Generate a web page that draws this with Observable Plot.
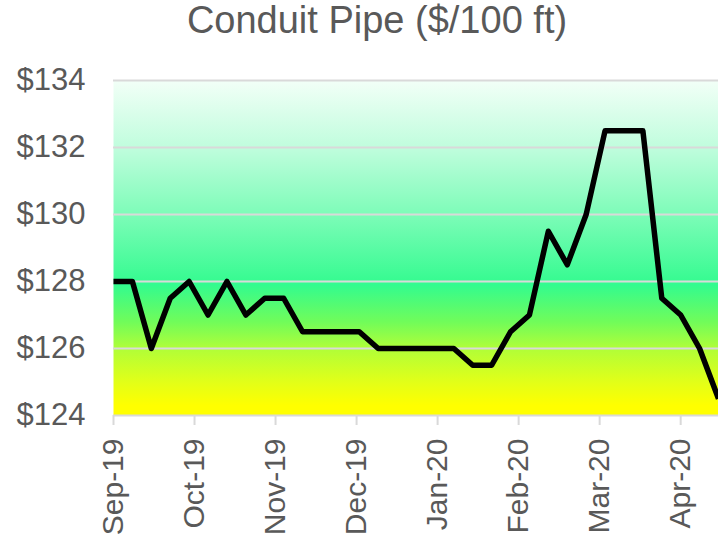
<!DOCTYPE html>
<html>
<head>
<meta charset="utf-8">
<script src="https://cdn.jsdelivr.net/npm/d3@7"></script>
<script src="https://cdn.jsdelivr.net/npm/@observablehq/plot@0.6"></script>
<style>
  html, body { margin: 0; padding: 0; background: #ffffff; }
  #title {
    box-sizing: border-box; width: 718px; height: 60px;
    padding-left: 36px; padding-top: 1px;
    text-align: center; font-family: "Liberation Sans", Arial, sans-serif;
    font-size: 38px; line-height: 38px; color: #595959; white-space: nowrap;
  }
  #chart svg { display: block; }
</style>
</head>
<body>
<div id="title">Conduit Pipe ($/100 ft)</div>
<div id="chart"></div>
<script>
// Weekly observation dates
const dates = [
  "2019-09-01","2019-09-08","2019-09-15","2019-09-22","2019-09-29",
  "2019-10-06","2019-10-13","2019-10-20","2019-10-27",
  "2019-11-03","2019-11-10","2019-11-17","2019-11-24",
  "2019-12-01","2019-12-08","2019-12-15","2019-12-22","2019-12-29",
  "2020-01-05","2020-01-12","2020-01-19","2020-01-26",
  "2020-02-02","2020-02-09","2020-02-16","2020-02-23",
  "2020-03-01","2020-03-08","2020-03-15","2020-03-22","2020-03-29",
  "2020-04-05","2020-04-12"
];
// Price ($ per 100 ft)
const prices = [
  128, 128, 126, 127.5, 128,
  127, 128, 127, 127.5,
  127.5, 126.5, 126.5, 126.5,
  126.5, 126, 126, 126, 126,
  126, 125.5, 125.5, 126.5,
  127, 129.5, 128.5, 130,
  132.5, 132.5, 132.5, 127.5, 127,
  126, 124.5
];
// X axis ticks (every 30 days) and their labels
const tickDates = ["2019-09-01","2019-10-01","2019-10-31","2019-11-30","2019-12-30","2020-01-29","2020-02-28","2020-03-29"];
const tickLabels = ["Sep-19","Oct-19","Nov-19","Dec-19","Jan-20","Feb-20","Mar-20","Apr-20"];
// Y axis ticks
const yTicks = [124, 126, 128, 130, 132, 134];

const data = dates.map((d, i) => ({date: new Date(d), price: prices[i]}));
const tickDateObjs = tickDates.map(d => new Date(d));
const labelFor = d => tickLabels[tickDateObjs.findIndex(t => +t === +d)];

const plot = Plot.plot({
  width: 718,
  height: 480,
  marginTop: 20,
  marginBottom: 125,
  marginLeft: 113,
  marginRight: 0,
  style: {fontFamily: "'Liberation Sans', Arial, sans-serif", color: "#595959", background: "transparent", overflow: "visible"},
  x: {type: "utc", domain: [data[0].date, data[data.length - 1].date], label: null},
  y: {domain: [124, 134], label: null},
  marks: [
    Plot.frame({fill: "url(#bg)", stroke: null}),
    Plot.gridY(yTicks, {stroke: "#d9d9d9", strokeOpacity: 1, strokeWidth: 2}),
    Plot.axisY(yTicks, {label: null, tickSize: 0, tickPadding: 28, tickFormat: d => "$" + d, fontSize: 31}),
    Plot.axisX(tickDateObjs, {label: null, tickSize: 10, tickPadding: 13, tickRotate: -90, tickFormat: labelFor, fontSize: 30, stroke: "#d9d9d9", strokeWidth: 2}),
    Plot.line(data, {x: "date", y: "price", stroke: "#000000", strokeWidth: 5.5, strokeLinejoin: "round", strokeLinecap: "butt"})
  ]
});

const svg = d3.select(plot);
const grad = svg.insert("defs", ":first-child").append("linearGradient")
  .attr("id", "bg").attr("x1", 0).attr("y1", 0).attr("x2", 0).attr("y2", 1);
[
  [0, "#f2fff7"],
  [0.2, "#c0fddd"],
  [0.4, "#7dfcb8"],
  [0.61, "#33fb8f"],
  [0.72, "#70fc5a"],
  [0.8, "#b0fe38"],
  [0.9, "#e2ff18"],
  [0.97, "#ffff00"],
  [1, "#ffff00"]
].forEach(([o, c]) => grad.append("stop").attr("offset", o).attr("stop-color", c));

document.getElementById("chart").appendChild(plot);
</script>
</body>
</html>
